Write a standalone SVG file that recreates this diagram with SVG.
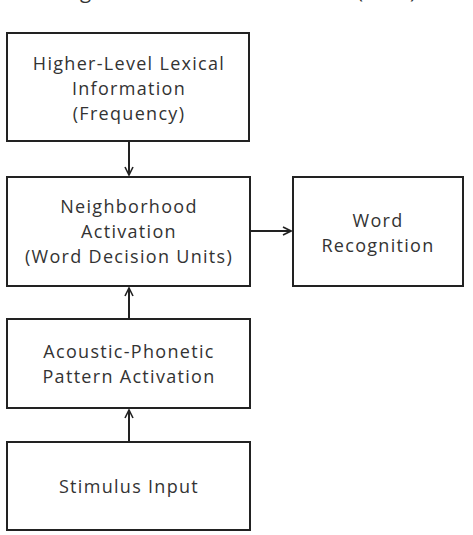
<svg xmlns="http://www.w3.org/2000/svg" width="473" height="535" viewBox="0 0 473 535">
<defs>
<style>
.box{fill:#fff;stroke:#222;stroke-width:2}
.t{font-family:"Open Sans","Noto Sans",sans-serif;font-size:18px;letter-spacing:1.3px;fill:#333;text-anchor:middle}
.title{font-family:"Open Sans","Noto Sans",sans-serif;font-size:20.5px;fill:#333;text-anchor:middle}
.c{stroke:#222;stroke-width:2;fill:none}
</style>
<marker id="ah" viewBox="0 0 10 10" refX="9" refY="5" markerWidth="10" markerHeight="10" markerUnits="userSpaceOnUse" orient="auto">
<path d="M1,1 L9,5 L1,9" fill="none" stroke="#222" stroke-width="1.6"/>
</marker>
</defs>
<rect width="473" height="535" fill="#fff"/>
<text class="title" x="232" y="-2.5">Neighborhood Activation Model (NAM)</text>
<g id="n-higher">
<rect class="box" x="7" y="33" width="242" height="108"/>
<text class="t" x="129" y="70">Higher-Level Lexical</text>
<text class="t" x="129" y="95">Information</text>
<text class="t" x="129" y="120">(Frequency)</text>
</g>
<g id="n-neighborhood">
<rect class="box" x="7" y="177" width="243" height="109"/>
<text class="t" x="129" y="213">Neighborhood</text>
<text class="t" x="129" y="238">Activation</text>
<text class="t" x="129" y="263">(Word Decision Units)</text>
</g>
<g id="n-word">
<rect class="box" x="293" y="177" width="170" height="109"/>
<text class="t" x="378" y="227">Word</text>
<text class="t" x="378" y="252">Recognition</text>
</g>
<g id="n-acoustic">
<rect class="box" x="7" y="319" width="243" height="89"/>
<text class="t" x="129" y="358">Acoustic-Phonetic</text>
<text class="t" x="129" y="383">Pattern Activation</text>
</g>
<g id="n-stimulus">
<rect class="box" x="7" y="442" width="243" height="88"/>
<text class="t" x="129" y="493">Stimulus Input</text>
</g>
<g id="connectors">
<line class="c" x1="129" y1="142" x2="129" y2="175" marker-end="url(#ah)"/>
<line class="c" x1="129" y1="318" x2="129" y2="288" marker-end="url(#ah)"/>
<line class="c" x1="129" y1="441" x2="129" y2="410" marker-end="url(#ah)"/>
<line class="c" x1="251" y1="231" x2="291" y2="231" marker-end="url(#ah)"/>
</g>
</svg>
